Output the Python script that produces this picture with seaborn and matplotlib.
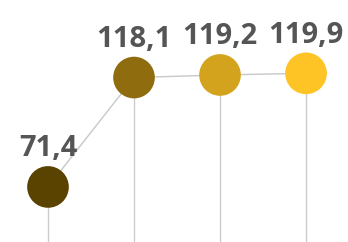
import matplotlib
matplotlib.use("Agg")
import matplotlib.pyplot as plt
import seaborn as sns
import pandas as pd

# data
positions = [0, 1, 2, 3]
values = [71.4, 118.1, 119.2, 119.9]
labels = ["71,4", "118,1", "119,2", "119,9"]
colors = ["#5a4300", "#8f6d0f", "#d4a31e", "#fec425"]

df = pd.DataFrame({"x": positions, "y": values, "label": labels})

sns.set_theme(style="white")
plt.rcParams["font.family"] = ["Open Sans", "DejaVu Sans"]

fig = plt.figure(figsize=(3.48, 2.42), dpi=100)
ax = fig.add_axes([0, 0, 1, 1])

ymin, ymax = 47.9, 151.2
ax.vlines(df["x"], ymin, df["y"], color="#cccccc", lw=1, zorder=1)
sns.lineplot(data=df, x="x", y="y", color="#c8c8c8", lw=1, ax=ax, zorder=2)
sns.scatterplot(data=df, x="x", y="y", hue="label", palette=colors,
                s=900, linewidth=0, legend=False, ax=ax, zorder=3)

for _, row in df.iterrows():
    ax.annotate(row["label"], (row["x"], row["y"]), xytext=(0, 22),
                textcoords="offset points", ha="center", va="baseline",
                fontsize=21, fontweight="bold", color="#555555")

ax.set_xlim(-0.558, 3.488)
ax.set_ylim(ymin, ymax)
ax.axis("off")

fig.savefig("out.png", dpi=100)
